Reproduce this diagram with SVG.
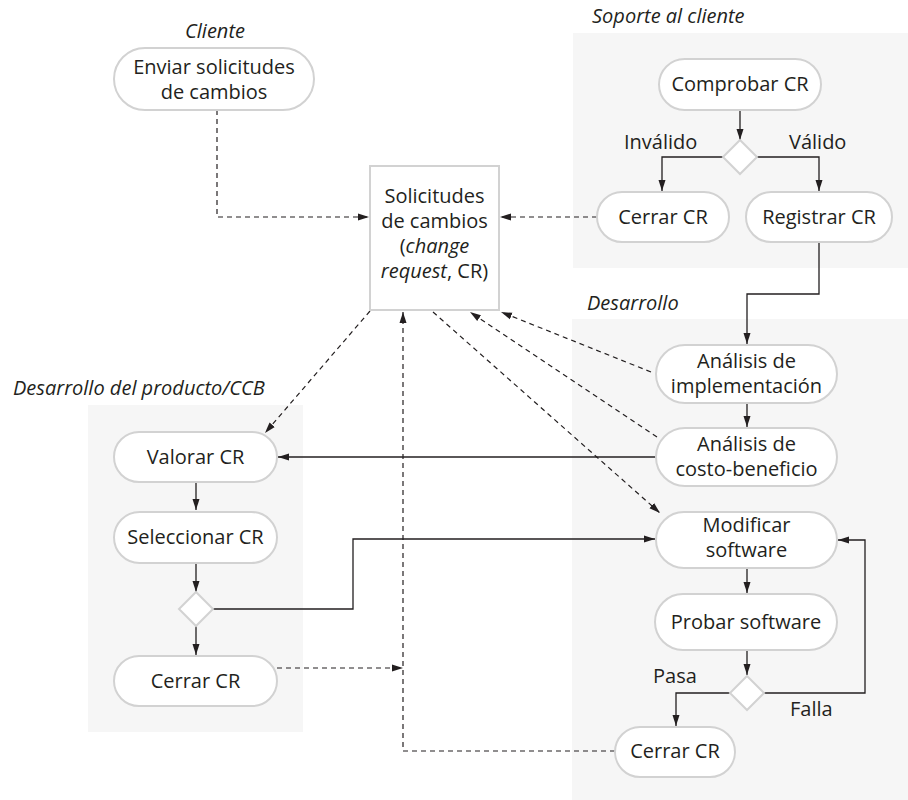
<svg xmlns="http://www.w3.org/2000/svg" width="908" height="800" viewBox="0 0 908 800">
<defs>
<style>
.region{fill:#f6f6f6;stroke:none}
.pill{fill:#ffffff;stroke:#d2d2d2;stroke-width:2}
.dia{fill:#ffffff;stroke:#d2d2d2;stroke-width:2}
.box{fill:#ffffff;stroke:#d2d2d2;stroke-width:2}
text{font-family:"Open Sans","Noto Sans",sans-serif;font-size:20px;fill:#231f20}
.c{text-anchor:middle}
.it{font-style:italic}
.ln{fill:none;stroke:#231f20;stroke-width:1.3}
.dl{fill:none;stroke:#231f20;stroke-width:1.2;stroke-dasharray:5 4}
</style>
<marker id="ah" markerUnits="userSpaceOnUse" markerWidth="12" markerHeight="8" refX="11" refY="4" orient="auto">
<path d="M0,0.5 L11,4 L0,7.5 z" fill="#231f20"/>
</marker>
</defs>

<g id="regions">
<rect class="region" x="573" y="33" width="335" height="235"/>
<rect class="region" x="572" y="319" width="336" height="481"/>
<rect class="region" x="88" y="405" width="215" height="327"/>
<text class="it" x="592" y="23">Soporte al cliente</text>
<text class="it" x="587" y="310">Desarrollo</text>
<text class="it" x="13" y="395">Desarrollo del producto/CCB</text>
<text class="it c" x="215" y="38">Cliente</text>
</g>

<g id="connectors">
<path class="dl" d="M217,110 V217 H369" marker-end="url(#ah)"/>
<path class="dl" d="M597,217 H500" marker-end="url(#ah)"/>
<path class="ln" d="M740,110 V140" marker-end="url(#ah)"/>
<path class="ln" d="M723,157 H662 V191" marker-end="url(#ah)"/>
<path class="ln" d="M757,157 H819 V191" marker-end="url(#ah)"/>
<path class="ln" d="M819,242 V294 H747 V344" marker-end="url(#ah)"/>
<path class="ln" d="M747,403 V427" marker-end="url(#ah)"/>
<path class="ln" d="M656,457 H278" marker-end="url(#ah)"/>
<path class="dl" d="M370,311 L265,433" marker-end="url(#ah)"/>
<path class="dl" d="M651,372 L501,312" marker-end="url(#ah)"/>
<path class="dl" d="M657,437 L470,312" marker-end="url(#ah)"/>
<path class="dl" d="M433,312 L660,513" marker-end="url(#ah)"/>
<path class="ln" d="M196,482 V510" marker-end="url(#ah)"/>
<path class="ln" d="M196,563 V592" marker-end="url(#ah)"/>
<path class="ln" d="M196,626 V655" marker-end="url(#ah)"/>
<path class="ln" d="M213,609 H353 V539 H655" marker-end="url(#ah)"/>
<path class="dl" d="M277,668 H403" marker-end="url(#ah)"/>
<path class="dl" d="M615,751 H403 V312" marker-end="url(#ah)"/>
<path class="ln" d="M747,568 V593" marker-end="url(#ah)"/>
<path class="ln" d="M747,650 V675" marker-end="url(#ah)"/>
<path class="ln" d="M730,693 H676 V726" marker-end="url(#ah)"/>
<path class="ln" d="M764,693 H865 V540 H838" marker-end="url(#ah)"/>
</g>

<g id="n-enviar">
<rect class="pill" x="114" y="48" width="200" height="62" rx="31"/>
<text class="c" x="214" y="74">Enviar solicitudes</text>
<text class="c" x="214" y="99">de cambios</text>
</g>

<g id="n-solicitudes">
<rect class="box" x="370" y="166" width="129" height="144"/>
<text class="c" x="434.5" y="203">Solicitudes</text>
<text class="c" x="434.5" y="228">de cambios</text>
<text class="c" x="434.5" y="253">(<tspan class="it">change</tspan></text>
<text class="c" x="434.5" y="278"><tspan class="it">request</tspan>, CR)</text>
</g>

<g id="n-comprobar">
<rect class="pill" x="659" y="59" width="162" height="51" rx="25.5"/>
<text class="c" x="740" y="91">Comprobar CR</text>
</g>

<g id="d-soporte">
<polygon class="dia" points="740,140 757,157 740,174 723,157"/>
<text x="624" y="149">Inválido</text>
<text x="789" y="149">Válido</text>
</g>

<g id="n-cerrar-soporte">
<rect class="pill" x="597" y="192" width="132" height="50" rx="25"/>
<text class="c" x="663" y="224">Cerrar CR</text>
</g>

<g id="n-registrar">
<rect class="pill" x="746" y="192" width="146" height="50" rx="25"/>
<text class="c" x="819" y="224">Registrar CR</text>
</g>

<g id="n-impl">
<rect class="pill" x="656" y="345" width="181" height="58" rx="29"/>
<text class="c" x="746.5" y="368">Análisis de</text>
<text class="c" x="746.5" y="393">implementación</text>
</g>

<g id="n-costo">
<rect class="pill" x="656" y="428" width="181" height="58" rx="29"/>
<text class="c" x="746.5" y="451">Análisis de</text>
<text class="c" x="746.5" y="476">costo-beneficio</text>
</g>

<g id="n-valorar">
<rect class="pill" x="114" y="432" width="163" height="50" rx="25"/>
<text class="c" x="195.5" y="464">Valorar CR</text>
</g>

<g id="n-seleccionar">
<rect class="pill" x="114" y="512" width="163" height="51" rx="25.5"/>
<text class="c" x="195.5" y="544">Seleccionar CR</text>
</g>

<g id="d-ccb">
<polygon class="dia" points="196,592 213,609 196,626 179,609"/>
</g>

<g id="n-cerrar-ccb">
<rect class="pill" x="114" y="656" width="163" height="50" rx="25"/>
<text class="c" x="195.5" y="688">Cerrar CR</text>
</g>

<g id="n-modificar">
<rect class="pill" x="656" y="512" width="181" height="56" rx="28"/>
<text class="c" x="746.5" y="532">Modificar</text>
<text class="c" x="746.5" y="557">software</text>
</g>

<g id="n-probar">
<rect class="pill" x="655" y="594" width="182" height="56" rx="28"/>
<text class="c" x="746" y="629">Probar software</text>
</g>

<g id="d-dev">
<polygon class="dia" points="747,676 764,693 747,710 730,693"/>
<text x="653" y="683">Pasa</text>
<text x="790" y="716">Falla</text>
</g>

<g id="n-cerrar-dev">
<rect class="pill" x="615" y="727" width="120" height="50" rx="25"/>
<text class="c" x="675" y="758">Cerrar CR</text>
</g>
</svg>
